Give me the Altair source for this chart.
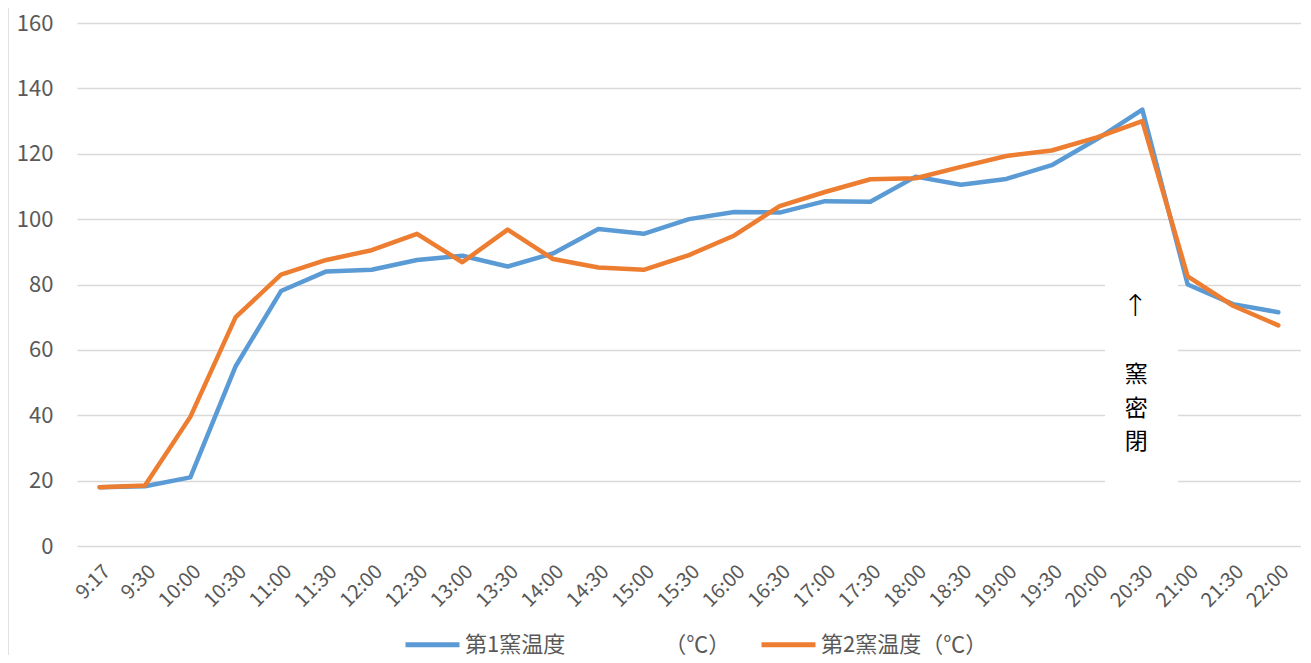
import altair as alt
import pandas as pd

times = ["9:17", "9:30", "10:00", "10:30", "11:00", "11:30", "12:00", "12:30", "13:00",
         "13:30", "14:00", "14:30", "15:00", "15:30", "16:00", "16:30", "17:00", "17:30",
         "18:00", "18:30", "19:00", "19:30", "20:00", "20:30", "21:00", "21:30", "22:00"]
kiln1 = [18.0, 18.3, 21.0, 55.0, 78.0, 84.0, 84.5, 87.5, 88.8, 85.5, 89.5, 97.0, 95.5, 100.0,
         102.2, 102.0, 105.5, 105.3, 113.0, 110.5, 112.3, 116.5, 124.5, 133.5, 80.0, 74.0, 71.5]
kiln2 = [18.0, 18.5, 39.5, 70.0, 83.0, 87.5, 90.5, 95.5, 86.8, 96.8, 87.8, 85.2, 84.5, 89.0,
         95.0, 104.0, 108.3, 112.2, 112.5, 116.0, 119.3, 121.0, 125.0, 130.0, 82.5, 73.5, 67.5]
series_names = ["第1窯温度　　　　　（℃）", "第2窯温度（℃）"]
colors = ["#5B9BD5", "#ED7D31"]

ann_chars = ["窯", "密", "閉"]
ann_vals = [52.2, 42.0, 31.8]
arrow_char = ["↑"]
arrow_val = [73.0]
ann_time = "20:30"

rows = []
for name, vals in zip(series_names, [kiln1, kiln2]):
    for i, (t, v) in enumerate(zip(times, vals)):
        rows.append({"time": t, "temp": v, "series": name, "order": i})
df = pd.DataFrame(rows)

W, H = 1224, 523
CJK = "Noto Sans CJK JP"

x_enc = alt.X("time:N", sort=times, scale=alt.Scale(type="point", padding=0.5),
              axis=alt.Axis(title=None, labelAngle=-45, labelFontSize=20, labelColor="#595959",
                            ticks=False, domain=False, grid=False, labelPadding=15,
                            labelFont=CJK))
y_enc = alt.Y("temp:Q", scale=alt.Scale(domain=[0, 160], nice=False),
              axis=alt.Axis(title=None, values=list(range(0, 161, 20)), labelFontSize=22,
                            labelColor="#595959", ticks=False, domain=False, labelPadding=24,
                            gridColor="#D9D9D9", gridWidth=1.5, labelFont=CJK))

lines = alt.Chart(df).mark_line(strokeWidth=4.5, strokeCap="round", strokeJoin="round").encode(
    x=x_enc, y=y_enc,
    color=alt.Color("series:N", scale=alt.Scale(domain=series_names, range=colors),
                    legend=alt.Legend(title=None, orient="none", direction="horizontal",
                                      legendX=326, legendY=592, symbolType="stroke",
                                      symbolSize=2916, symbolStrokeWidth=5,
                                      labelFontSize=22, labelColor="#595959", labelFont=CJK,
                                      labelLimit=500, columnPadding=20, symbolOffset=0,
                                      labelOffset=3, padding=0)),
    order="order:Q",
)

bg = alt.Chart(pd.DataFrame({"a": [0]})).mark_rect(color="white").encode(
    x=alt.value(1028), x2=alt.value(1101), y=alt.value(244), y2=alt.value(469))

border = alt.Chart(pd.DataFrame({"a": [0]})).mark_rule(color="#D9D9D9", strokeWidth=1.5).encode(
    x=alt.value(-69), y=alt.value(-15), y2=alt.value(H + 109))

ann = alt.Chart(pd.DataFrame({"time": [ann_time] * 3, "temp": ann_vals, "ch": ann_chars})).mark_text(
    fontSize=23, color="black", font=CJK, dx=-6, baseline="middle").encode(
    x=alt.X("time:N", sort=times), y=alt.Y("temp:Q"), text="ch:N")

arrow = alt.Chart(pd.DataFrame({"time": [ann_time], "temp": arrow_val, "ch": arrow_char})).mark_text(
    fontSize=30, color="black", font="DejaVu Sans", fontWeight=200, dx=-7, baseline="middle").encode(
    x=alt.X("time:N", sort=times), y=alt.Y("temp:Q"), text="ch:N")

chart = alt.layer(border, lines, bg, ann, arrow).properties(
    width=W, height=H,
    autosize=alt.AutoSizeParams(type="none"),
    padding={"left": 69, "top": 15, "right": 0, "bottom": 109},
).configure_view(stroke=None)

chart.save("out.html", embed_options={"renderer": "svg", "actions": False})
